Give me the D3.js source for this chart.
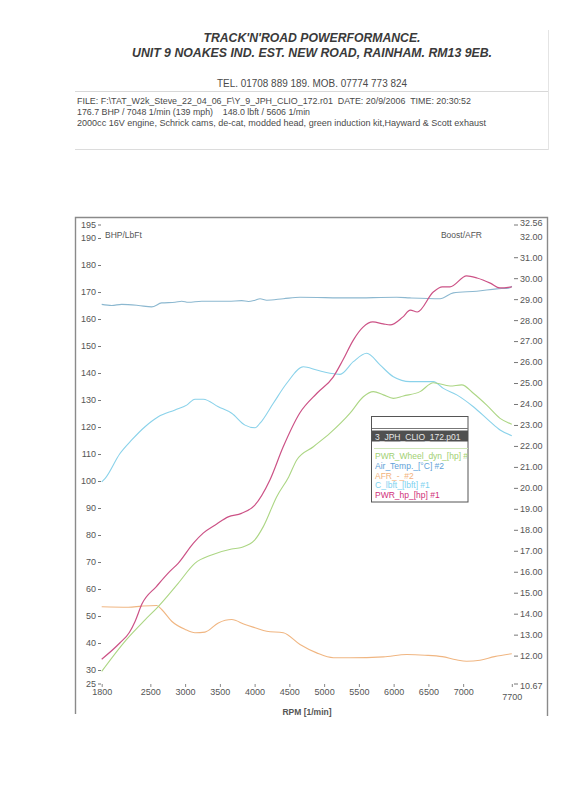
<!DOCTYPE html>
<html><head><meta charset="utf-8">
<script src="https://cdn.jsdelivr.net/npm/d3@7"></script>
<style>
html,body{margin:0;padding:0;background:#fff;}
svg{display:block;font-family:"Liberation Sans",Arial,sans-serif;}
</style></head>
<body>
<svg id="c" width="582" height="800"></svg>
<script>
// ---------- DATA ----------
const xTicks = [1800, 2500, 3000, 3500, 4000, 4500, 5000, 5500, 6000, 6500, 7000, 7700];
const leftTicks = [25, 30, 40, 50, 60, 70, 80, 90, 100, 110, 120, 130, 140, 150, 160, 170, 180, 190, 195];
const rightTicks = [10.67, 12, 13, 14, 15, 16, 17, 18, 19, 20, 21, 22, 23, 24, 25, 26, 27, 28, 29, 30, 31, 32, 32.56];

// PWR_hp [hp] #1 (left axis)
const hpRpm = [1800, 2060, 2200, 2280, 2380, 2590, 2780, 2900, 3120, 3260, 3450, 3620, 3810, 4000, 4220, 4410, 4650, 4900, 5130, 5270, 5420, 5560, 5700, 5850, 5950, 6130, 6240, 6340, 6570, 6700, 6810, 7050, 7200, 7390, 7530, 7700];
const hpVal = [34, 40, 44, 48, 54.5, 61, 66.5, 69.5, 77, 80.7, 84, 86.7, 88, 91, 100.4, 112.6, 125.2, 132.6, 138.5, 144.8, 152.2, 157, 158.9, 158.2, 157.8, 160.7, 163.3, 162.6, 170, 171.9, 171.9, 176, 175.2, 173.3, 171.5, 171.9];

// PWR_Wheel_dyn_[hp] #1 (left axis)
const whRpm = [1800, 2150, 2420, 2610, 2900, 3140, 3380, 3670, 3810, 4000, 4125, 4318, 4490, 4606, 4845, 5085, 5373, 5564, 5708, 5852, 5996, 6140, 6380, 6571, 6812, 6980, 7147, 7339, 7531, 7700];
const whVal = [29.5, 41.1, 48.5, 53.4, 62.1, 69.5, 72.6, 74.8, 75.4, 78.1, 83.1, 94.2, 101.5, 107.8, 112.7, 117.7, 125.1, 131.2, 133.1, 131.9, 130.6, 131.5, 133.1, 136.4, 135.2, 135.6, 132.5, 128.1, 123.2, 121];

// C_lbft_[lbft] #1 (left axis)
const tqRpm = [1800, 1850, 2063, 2232, 2423, 2614, 2855, 3023, 3142, 3262, 3478, 3670, 3862, 4006, 4078, 4269, 4462, 4701, 4893, 5085, 5229, 5420, 5613, 5804, 5996, 6236, 6571, 6715, 6908, 7147, 7387, 7531, 7700];
const tqVal = [99.7, 101, 110.2, 115.2, 120.1, 123.8, 126.3, 128.1, 130.3, 130.3, 127.5, 125.1, 120.7, 119.7, 121.4, 128.8, 136.2, 142.3, 141.1, 139.9, 139.5, 144.2, 147.3, 143.0, 138.6, 136.8, 136.8, 134.3, 131.9, 127.5, 122.0, 118.9, 116.8];

// Air_Temp._[°C] #2 (right axis)
const atRpm = [1800, 1944, 2088, 2327, 2519, 2663, 2855, 2951, 3046, 3239, 3622, 3814, 3910, 4006, 4078, 4174, 4413, 4653, 5373, 6044, 6236, 6668, 6859, 7195, 7483, 7675, 7700];
const atVal = [28.75, 28.70, 28.75, 28.70, 28.63, 28.82, 28.85, 28.90, 28.85, 28.90, 28.90, 28.93, 28.89, 28.95, 29.02, 28.95, 29.02, 29.09, 29.06, 29.09, 29.06, 29.02, 29.30, 29.38, 29.49, 29.54, 29.62];

// AFR_-_#2 (right axis)
const afRpm = [1800, 2183, 2376, 2591, 2663, 2807, 2999, 3142, 3286, 3478, 3670, 3862, 4006, 4174, 4413, 4653, 4893, 5133, 5373, 5852, 6188, 6450, 6700, 6900, 7050, 7243, 7450, 7700];
const afVal = [14.33, 14.31, 14.36, 14.39, 14.20, 13.64, 13.25, 13.09, 13.12, 13.56, 13.72, 13.48, 13.33, 13.16, 13.09, 12.53, 12.13, 11.90, 11.90, 11.94, 12.05, 12.02, 11.95, 11.80, 11.73, 11.78, 11.95, 12.09];

const legendItems = ["PWR_Wheel_dyn_[hp] #1", "Air_Temp._[°C] #2", "AFR_-_#2", "C_lbft_[lbft] #1", "PWR_hp_[hp] #1"];
const legendColors = ["#9fd072", "#5e9fd8", "#f2b27c", "#7ed2f0", "#d0307a"];

const header = {
  title1: "TRACK'N'ROAD POWERFORMANCE.",
  title2: "UNIT 9 NOAKES IND. EST. NEW ROAD, RAINHAM. RM13 9EB.",
  tel: "TEL. 01708 889 189. MOB. 07774 773 824",
  info: [
    "FILE: F:\\TAT_W2k_Steve_22_04_06_F\\Y_9_JPH_CLIO_172.r01  DATE: 20/9/2006  TIME: 20:30:52",
    "176.7 BHP / 7048 1/min (139 mph)    148.0 lbft / 5606 1/min",
    "2000cc 16V engine, Schrick cams, de-cat, modded head, green induction kit,Hayward & Scott exhaust"
  ]
};

// ---------- DRAW ----------
const svg = d3.select("#c");
const txt = "#4a4a4a";

// header box lines
svg.append("line").attr("x1", 75).attr("x2", 548).attr("y1", 91.5).attr("y2", 91.5).attr("stroke", "#d8d8d8");
svg.append("line").attr("x1", 75).attr("x2", 548).attr("y1", 149.5).attr("y2", 149.5).attr("stroke", "#dcdcdc");
svg.append("line").attr("x1", 548.5).attr("x2", 548.5).attr("y1", 30).attr("y2", 150).attr("stroke", "#e4e4e4");

svg.append("text").attr("x", 312).attr("y", 42).attr("text-anchor", "middle")
  .attr("font-size", 12.5).attr("font-weight", "bold").attr("font-style", "italic").attr("fill", "#3a3a3a")
  .attr("textLength", 217).attr("lengthAdjust", "spacingAndGlyphs").text(header.title1);
svg.append("text").attr("x", 312).attr("y", 57).attr("text-anchor", "middle")
  .attr("font-size", 12.5).attr("font-weight", "bold").attr("font-style", "italic").attr("fill", "#3a3a3a")
  .attr("textLength", 360).attr("lengthAdjust", "spacingAndGlyphs").text(header.title2);
svg.append("text").attr("x", 312).attr("y", 87).attr("text-anchor", "middle")
  .attr("font-size", 10).attr("fill", txt)
  .attr("textLength", 190).attr("lengthAdjust", "spacingAndGlyphs").text(header.tel);
const infoLens = [394, 233, 409];
header.info.forEach((t, i) => {
  svg.append("text").attr("x", 77).attr("y", 103.5 + i * 11).attr("font-size", 9.5).attr("fill", txt)
    .attr("textLength", infoLens[i]).attr("lengthAdjust", "spacingAndGlyphs")
    .attr("xml:space", "preserve").style("white-space", "pre").text(t);
});

// plot frame (top and sides; bottom edge faded in the scan)
svg.append("path").attr("d", "M75.5,714 V217.5 H547.5 V716")
  .attr("fill", "none").attr("stroke", "#8a8a8a").attr("stroke-width", 1.4);

// scales
const x = d3.scaleLinear().domain([1800, 7700]).range([101.7, 511.8]);
const yL = d3.scaleLinear().domain([25, 195]).range([683.5, 224.5]);
const yR = d3.scaleLinear().domain([10.67, 32.56]).range([683.5, 224.5]);

// left axis
const gL = svg.append("g").attr("transform", "translate(101,0)")
  .call(d3.axisLeft(yL).tickValues(leftTicks).tickSize(3).tickPadding(2).tickFormat(d3.format("d")));
gL.select(".domain").remove();
gL.selectAll("text").attr("font-size", 9).attr("fill", "#555").attr("font-family", "Liberation Sans, Arial, sans-serif");
gL.selectAll("line").attr("stroke", "#777");

// right axis
const gR = svg.append("g").attr("transform", "translate(514,0)")
  .call(d3.axisRight(yR).tickValues(rightTicks).tickSize(4).tickPadding(2).tickFormat(d => "" + d3.format(".2f")(d)));
gR.select(".domain").remove();
gR.selectAll("text").attr("font-size", 9).attr("fill", "#555").attr("font-family", "Liberation Sans, Arial, sans-serif");
gR.selectAll("line").attr("stroke", "#777");
gR.selectAll(".tick").filter(d => d === 32).select("line").remove();
gR.selectAll(".tick").filter(d => d === 32.56).select("text").attr("dy", "0.1em");
gR.selectAll(".tick").filter(d => d === 10.67).select("text").attr("dy", "0.6em");

// x axis
const gX = svg.append("g").attr("transform", "translate(0,684)")
  .call(d3.axisBottom(x).tickValues(xTicks).tickSize(3).tickPadding(2).tickFormat(d3.format("d")));
gX.select(".domain").remove();
gX.selectAll("text").attr("font-size", 9).attr("fill", "#555").attr("font-family", "Liberation Sans, Arial, sans-serif");
gX.selectAll("line").attr("stroke", "#888");
gX.selectAll(".tick").filter(d => d === 7700).select("text").attr("dy", "1.2em");

svg.append("text").attr("x", 307).attr("y", 715).attr("text-anchor", "middle").attr("font-size", 8.5)
  .attr("font-weight", "bold").attr("fill", "#555").text("RPM  [1/min]");
svg.append("text").attr("x", 105).attr("y", 238).attr("font-size", 8.5).attr("fill", "#555").text("BHP/LbFt");
svg.append("text").attr("x", 482).attr("y", 238).attr("text-anchor", "end").attr("font-size", 8.5).attr("fill", "#555").text("Boost/AFR");

// curves
function draw(rpm, vals, scale, color, w) {
  const pts = rpm.map((r, i) => [r, vals[i]]);
  const line = d3.line().x(d => x(d[0])).y(d => scale(d[1])).curve(d3.curveMonotoneX);
  svg.append("path").datum(pts).attr("d", line).attr("fill", "none")
    .attr("stroke", color).attr("stroke-width", w || 1.1).attr("stroke-linejoin", "round");
}
draw(atRpm, atVal, yR, "#8cb8d0", 1.1);
draw(afRpm, afVal, yR, "#f0b682", 1.1);
draw(tqRpm, tqVal, yL, "#8ad2ea", 1.1);
draw(whRpm, whVal, yL, "#acd684", 1.1);
draw(hpRpm, hpVal, yL, "#cc5286", 1.2);

// legend
const lg = svg.append("g");
svg.append("clipPath").attr("id", "lgclip").append("rect").attr("x", 371).attr("y", 416).attr("width", 97).attr("height", 86);
lg.append("rect").attr("x", 371.5).attr("y", 416.5).attr("width", 96.5).attr("height", 85.5)
  .attr("fill", "#fff").attr("stroke", "#555").attr("stroke-width", 1);
lg.append("line").attr("x1", 372).attr("x2", 468).attr("y1", 428.5).attr("y2", 428.5).attr("stroke", "#777");
lg.append("rect").attr("x", 372).attr("y", 430.5).attr("width", 96).attr("height", 11).attr("fill", "#505050");
lg.append("text").attr("x", 375).attr("y", 439.5).attr("font-size", 8.5).attr("fill", "#e8e8e8").text("3_JPH_CLIO_172.p01");
lg.append("line").attr("x1", 374).attr("x2", 468).attr("y1", 448.5).attr("y2", 448.5).attr("stroke", "#cfe6b8");
const lgItems = lg.append("g").attr("clip-path", "url(#lgclip)");
legendItems.forEach((t, i) => {
  lgItems.append("text").attr("x", 375).attr("y", 459 + i * 9.8).attr("font-size", 8.5)
    .attr("fill", legendColors[i]).text(t);
});
</script>
</body></html>
